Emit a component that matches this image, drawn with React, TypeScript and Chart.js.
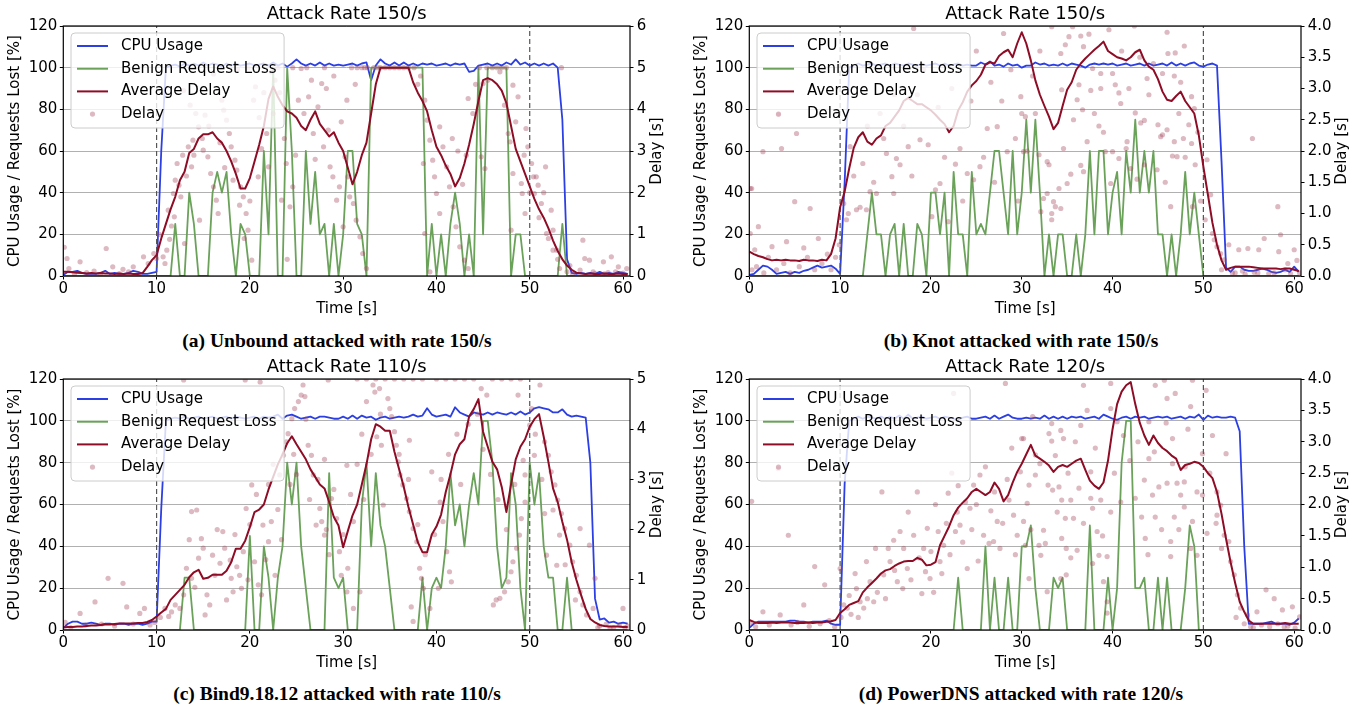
import React, { useEffect, useRef } from "react";
import { Chart, registerables } from "chart.js";

Chart.register(...registerables);

const FONT = '"DejaVu Sans", sans-serif';
const BLUE = "#2b3fe2";
const GREEN = "#6aa25a";
const RED = "#8e0c25";
const DOT = "rgba(165,70,95,0.38)";

// sampling grid (s)
const TIME = [
  0, 0.5, 1, 1.5, 2, 2.5, 3, 3.5, 4, 4.5,
  5, 5.5, 6, 6.5, 7, 7.5, 8, 8.5, 9, 9.5,
  10, 10.5, 11, 11.5, 12, 12.5, 13, 13.5, 14, 14.5,
  15, 15.5, 16, 16.5, 17, 17.5, 18, 18.5, 19, 19.5,
  20, 20.5, 21, 21.5, 22, 22.5, 23, 23.5, 24, 24.5,
  25, 25.5, 26, 26.5, 27, 27.5, 28, 28.5, 29, 29.5,
  30, 30.5, 31, 31.5, 32, 32.5, 33, 33.5, 34, 34.5,
  35, 35.5, 36, 36.5, 37, 37.5, 38, 38.5, 39, 39.5,
  40, 40.5, 41, 41.5, 42, 42.5, 43, 43.5, 44, 44.5,
  45, 45.5, 46, 46.5, 47, 47.5, 48, 48.5, 49, 49.5,
  50, 50.5, 51, 51.5, 52, 52.5, 53, 53.5, 54, 54.5,
  55, 55.5, 56, 56.5, 57, 57.5, 58, 58.5, 59, 59.5,
  60, 60.5,
];

const TIME_TICKS = [0, 10, 20, 30, 40, 50, 60];
const PERCENT_TICKS = [0, 20, 40, 60, 80, 100, 120];
const ATTACK_MARKS = [10, 50];
const X_MAX = 60.75;

// ---------- (a) Unbound, 150/s ----------
const A_CPU = [
  0.5, 2, 2, 2.5, 1.5, 1, 1, 1, 1.5, 2.5,
  1, 1.5, 1, 1, 1.5, 2.5, 2, 1, 1, 1.5,
  2, 60, 100, 101, 101.5, 100.5, 102, 101, 102, 101,
  102.5, 101, 102, 101.5, 100.5, 102, 101, 102, 101, 101.5,
  102, 101, 101.5, 102, 101, 102.5, 101, 102, 100.5, 102,
  104, 102, 101, 102, 101, 102.5, 101, 102, 101, 101.5,
  101, 101.5, 102, 101, 102, 102.5, 94, 101, 104, 102,
  101, 102.5, 101, 102.5, 101, 102, 101, 102, 101.5, 102,
  101, 101.5, 102, 101, 102, 101.5, 102, 98, 98.5, 101,
  101.5, 102, 101, 102, 101, 102.5, 101.5, 104, 101.5, 102.5,
  101, 102, 101, 102, 101, 102, 100, 75, 8, 1.5,
  1, 1.5, 1, 1.5, 1, 2, 1, 1.5, 1, 2,
  1.5, 1,
];
const A_LOSS = [
  0, 0, 0, 0, 0, 0, 0, 0, 0, 0,
  0, 0, 0, 0, 0, 0, 0, 0, 0, 0,
  0, 0, 0, 0, 25, 0, 0, 40, 25, 0,
  0, 0, 40, 50, 40, 50, 20, 0, 25, 20,
  0, 0, 0, 60, 20, 100, 0, 0, 100, 60,
  0, 0, 60, 25, 50, 20, 25, 0, 25, 0,
  20, 60, 60, 25, 20, 0, 100, 100, 100, 100,
  100, 100, 100, 100, 100, 100, 100, 100, 0, 25,
  0, 20, 0, 25, 40, 25, 0, 20, 0, 100,
  20, 100, 100, 100, 100, 100, 0, 20, 20, 0,
  0, 0, 0, 0, 0, 0, 0, 25, 0, 0,
  0, 0, 0, 0, 0, 0, 0, 0, 0, 0,
  0, 0,
];
const A_AVG = [
  0.1, 0.1, 0.09, 0.08, 0.07, 0.06, 0.07, 0.06, 0.07, 0.06,
  0.06, 0.05, 0.06, 0.05, 0.06, 0.05, 0.05, 0.07, 0.22, 0.38,
  0.5, 0.9, 1.25, 1.6, 1.9, 2.3, 2.5, 2.95, 3.05, 3.3,
  3.4, 3.4, 3.45, 3.3, 3.2, 3.0, 2.75, 2.45, 2.1, 2.1,
  2.35, 2.75, 3.15, 3.6, 4.25, 4.55, 4.3, 4.1, 3.95, 3.9,
  3.8, 3.6, 3.5, 3.75, 3.95, 3.65, 3.5, 3.35, 3.45, 3.2,
  3.0, 2.6, 2.2, 2.5, 2.9, 3.2, 3.9, 4.6, 5.0, 5.0,
  5.0, 5.0, 5.0, 5.0, 5.0, 4.65, 4.4, 4.2, 3.95, 3.5,
  3.1, 2.9, 2.65, 2.45, 2.15, 2.35, 2.7, 3.15, 3.65, 4.2,
  4.7, 4.75, 4.7, 4.6, 4.45, 4.15, 3.6, 3.05, 2.75, 2.45,
  2.15, 1.85, 1.6, 1.4, 1.15, 0.85, 0.6, 0.4, 0.25, 0.15,
  0.08, 0.06, 0.05, 0.06, 0.05, 0.05, 0.06, 0.05, 0.05, 0.06,
  0.05, 0.05,
];
const A_DOTS = [
  [0.1, 0.69], [0.4, 0.42], [0.6, 0.18], [1.2, 0.05], [1.8, 0.34], [2.5, 0.08], [3.3, 0.12], [4.0, 0.04],
  [4.6, 0.66], [5.3, 0.22], [6.0, 0.06], [6.4, 0.16], [7.0, 0.1], [7.5, 0.22], [8.1, 0.05], [8.6, 0.46],
  [9.1, 0.3], [9.7, 0.54], [10, 0.42], [10.3, 1.0], [10.7, 0.46], [11.1, 0.62], [11.25, 1.58], [11.4, 0.88],
  [11.8, 1.98], [11.9, 1.42], [12.2, 2.7], [12.4, 2.18], [12.8, 2.9], [12.9, 4.45], [13, 0.78], [13.4, 3.1],
  [13.6, 4.1], [13.75, 2.62], [13.9, 3.26], [14.2, 3.9], [14.5, 3.58], [14.6, 1.34], [15, 3.02], [15.2, 3.86],
  [15.5, 2.86], [15.8, 2.46], [16.1, 2.14], [16.1, 4.85], [16.4, 1.82], [16.6, 1.5], [17, 4.22], [17.2, 3.98],
  [17.5, 3.74], [17.8, 3.42], [18, 3.1], [18.4, 2.78], [18.6, 2.54], [18.7, 4.95], [19, 2.14], [19.3, 1.9],
  [19.6, 1.5], [19.8, 1.1], [19.8, 5.0], [20.2, 0.38], [20.4, 4.22], [20.6, 4.54], [20.9, 2.38], [21.25, 3.06],
  [21.8, 3.42], [22, 2.62], [22.3, 4.9], [22.7, 4.7], [23, 5.0], [23.4, 1.82], [23.9, 2.7], [24.3, 1.66],
  [24.6, 2.14], [24.6, 5.0], [25.2, 4.22], [25.5, 4.98], [26.1, 5.0], [26.6, 4.7], [26.8, 3.42], [27.3, 4.06],
  [27.7, 4.62], [28, 5.0], [28.4, 3.5], [28.6, 2.62], [28.9, 2.38], [29.3, 1.82], [29.6, 2.14], [30, 1.18],
  [30.2, 2.86], [30.4, 4.22], [30.5, 2.38], [30.9, 5.0], [31.1, 1.74], [31.4, 1.34], [31.5, 5.0], [31.8, 0.94],
  [32, 5.0], [32.1, 0.54], [32.5, 0.18], [32.6, 5.0], [33.3, 5.0], [34, 5.0], [35, 5.0], [36, 5.0],
  [37, 5.0], [37.6, 5.0], [38.6, 2.7], [38.75, 4.22], [38.75, 1.02], [39, 3.74], [39.3, 3.26], [39.3, 0.1],
  [39.6, 2.78], [39.8, 2.38], [40, 1.98], [40.35, 1.5], [40.35, 3.58], [40.7, 3.1], [41.1, 2.62], [41.4, 2.14],
  [41.8, 1.66], [42.1, 1.18], [42.5, 0.7], [43, 0.38], [43.4, 0.18], [43.4, 4.26], [43.9, 3.9], [44.6, 5.0],
  [44.8, 2.86], [45, 4.62], [45.2, 2.58], [45.4, 5.0], [45.5, 4.7], [46, 5.0], [46.5, 5.0], [47, 5.0],
  [47.5, 5.0], [47.7, 3.42], [47.9, 3.22], [48, 1.1], [48.2, 4.58], [48.2, 2.46], [48.75, 4.3], [49.1, 2.22],
  [49.2, 1.98], [49.5, 1.5], [49.6, 3.54], [49.8, 3.1], [50.2, 2.7], [50.4, 2.38], [50.5, 1.98], [50.7, 2.38],
  [50.9, 2.18], [51.25, 1.74], [51.7, 2.62], [51.8, 1.02], [52.3, 1.58], [52.5, 1.1], [52.5, 0.62], [52.9, 0.62],
  [53.2, 0.18], [53.4, 5.0], [54, 0.1], [54.6, 0.05], [55.4, 0.14], [55.7, 0.86], [55.9, 0.42], [56.4, 0.38],
  [57, 0.06], [57.9, 0.34], [58.4, 0.08], [58.75, 0.46], [59.5, 0.22], [60, 0.07], [60.4, 0.18],
  [10.9, 0.3], [11.6, 1.2], [12.0, 2.3], [12.6, 1.9], [13.2, 2.4], [14.0, 2.9], [14.9, 3.3], [15.6, 3.6],
  [16.8, 3.2], [17.3, 2.6], [18.2, 2.3], [18.9, 1.7], [19.4, 0.9], [20.0, 1.8], [21.0, 3.8], [21.5, 4.4],
  [22.5, 3.9], [23.2, 4.4], [23.7, 3.3], [24.0, 0.4], [24.9, 2.9], [25.8, 3.9], [26.3, 4.3], [27.0, 2.8],
  [27.9, 3.1], [28.2, 4.5], [29.0, 4.8], [29.8, 3.7], [30.7, 1.9], [31.3, 4.6], [32.3, 5.0], [33.7, 5.0],
  [34.5, 5.0], [35.5, 5.0], [36.5, 5.0], [38.0, 4.6], [38.3, 4.8], [41.7, 3.3], [42.3, 3.0], [42.8, 2.2],
  [43.2, 2.9], [44.2, 4.6], [46.8, 4.9], [47.3, 4.1], [48.5, 3.7], [49.4, 2.9], [50.0, 2.0], [51.0, 1.4],
  [51.5, 2.0], [52.0, 0.9], [53.0, 0.4], [54.3, 0.25], [56.8, 0.1], [58.0, 0.05], [59.2, 0.1],
];
const A_DELAY_TICKS = [0, 1, 2, 3, 4, 5, 6];

// ---------- (b) Knot, 150/s ----------
const B_CPU = [
  0.5, 1, 3, 5, 4.5, 3, 1, 1.5, 2, 1,
  2, 1.5, 2.5, 3, 4, 5, 4, 4.5, 5, 3.5,
  1, 45, 100, 101, 102, 101, 101.5, 102, 101, 101.5,
  102, 101, 102, 101.5, 101, 102, 101.5, 101, 102, 101,
  101.5, 102, 101, 102, 101, 101.5, 102, 101, 101.5, 101,
  101, 102.5, 101.5, 103, 101, 101.5, 100.5, 102, 101, 101.5,
  100, 101, 101, 102.5, 101.5, 102, 101, 101.5, 101, 102,
  101, 102, 101.5, 101, 100, 101.5, 102, 101.5, 102, 101.5,
  102, 101, 101.5, 102, 101, 101.5, 102, 101, 102, 101,
  101.5, 102, 101, 102.5, 101, 102, 101, 102, 102.5, 101,
  100.5, 101.5, 102, 101, 55, 4, 2, 4.5, 4.5, 3,
  2.5, 2.5, 3, 3.5, 3, 2, 1.5, 2, 3, 2,
  4.5, 2,
];
const B_LOSS = [
  0, 0, 0, 0, 0, 0, 0, 0, 0, 0,
  0, 0, 0, 0, 0, 0, 0, 0, 0, 0,
  0, 0, 0, 0, 0, 0, 20, 40, 20, 20,
  0, 20, 25, 0, 25, 0, 0, 25, 20, 0,
  40, 40, 20, 40, 0, 50, 20, 20, 0, 50,
  20, 25, 20, 40, 60, 60, 40, 20, 60, 20,
  40, 75, 40, 75, 40, 0, 20, 0, 20, 20,
  0, 0, 20, 0, 20, 60, 20, 60, 60, 20,
  40, 50, 20, 60, 40, 75, 40, 60, 40, 60,
  20, 20, 0, 20, 0, 20, 50, 20, 40, 20,
  0, 0, 0, 0, 0, 0, 0, 0, 0, 0,
  0, 0, 0, 0, 0, 0, 0, 0, 0, 0,
  0, 0,
];
const B_AVG = [
  0.39, 0.35, 0.32, 0.3, 0.27, 0.25, 0.26, 0.25, 0.26, 0.25,
  0.25, 0.24, 0.26, 0.25, 0.25, 0.24, 0.26, 0.25, 0.35, 0.6,
  1.1, 1.35, 1.72, 2.05, 2.22, 2.3, 2.15, 2.1, 2.2, 2.25,
  2.4, 2.45, 2.55, 2.65, 2.8, 2.85, 2.8, 2.75, 2.75, 2.7,
  2.65, 2.58, 2.5, 2.43, 2.3, 2.4, 2.65, 2.78, 2.95, 3.05,
  3.12, 3.22, 3.38, 3.42, 3.4, 3.52, 3.58, 3.62, 3.5, 3.72,
  3.9, 3.72, 3.45, 3.13, 2.9, 2.72, 2.55, 2.35, 2.45, 2.72,
  2.98, 3.1, 3.3, 3.4, 3.48, 3.55, 3.62, 3.68, 3.75, 3.6,
  3.55, 3.5, 3.48, 3.45, 3.5, 3.58, 3.62, 3.45, 3.35, 3.3,
  3.15, 2.95, 2.82, 2.8, 2.88, 2.95, 2.8, 2.7, 2.6, 2.25,
  1.75, 1.3, 0.85, 0.5, 0.25, 0.1, 0.13, 0.15, 0.15, 0.15,
  0.15, 0.14, 0.13, 0.12, 0.12, 0.12, 0.12, 0.11, 0.12, 0.12,
  0.1, 0.08,
];
const B_DOTS = [
  [0.1, 1.4], [0.1, 0.68], [0.26, 1.4], [0.3, 0.1], [0.6, 0.42], [0.8, 0.15], [1.0, 0.79], [1.5, 1.99],
  [1.6, 0.05], [2.1, 0.3], [2.5, 0.47], [3.0, 0.1], [3.2, 2.58], [3.55, 2.04], [3.8, 0.2], [4.1, 0.55],
  [4.5, 0.05], [5.0, 1.19], [5.2, 2.28], [5.5, 0.15], [6.0, 0.45], [6.4, 0.3], [6.7, 1.08], [7.2, 0.1],
  [7.6, 0.6], [8, 0.2], [8.6, 0.35], [9, 0.1], [9.5, 0.3], [9.9, 0.5], [10.4, 1.16], [10.7, 0.9],
  [10.9, 1.0], [11.1, 2.07], [11.8, 1.06], [12.2, 1.1], [12.9, 1.06], [13.3, 1.35], [13.7, 1.5], [14, 1.32],
  [14.4, 2.6], [15.1, 1.96], [15.7, 1.59], [15.9, 1.32], [16.2, 1.88], [16.6, 1.78], [17.5, 2.07], [18.1, 3.96],
  [18.8, 2.18], [19.7, 2.1], [20.1, 0.95], [20.5, 1.38], [21, 1.48], [21.9, 0.87], [22.7, 1.79], [23.2, 2.04],
  [24, 1.64], [24.7, 1.54], [25.4, 1.75], [26.2, 2.36], [27.3, 2.39], [28, 3.88], [28.4, 1.99], [29.9, 2.87],
  [30, 2.6], [30.2, 1.99], [30.4, 2.55], [30.6, 2.0], [31.9, 1.94], [32.1, 1.03], [32.4, 1.24], [32.8, 1.83],
  [32.8, 1.32], [33, 1.78], [33.3, 3.99], [33.3, 1.0], [33.3, 0.9], [33.5, 1.19], [33.7, 1.11], [34.1, 1.4],
  [34.3, 3.56], [34.3, 1.08], [34.4, 2.98], [34.6, 2.04], [34.8, 3.7], [35, 1.48], [35.2, 3.83], [35.4, 1.63],
  [35.6, 3.99], [35.7, 2.5], [36.1, 2.82], [36.3, 3.06], [36.5, 3.84], [36.5, 1.77], [36.7, 2.66], [36.8, 3.67],
  [36.8, 1.67], [37.2, 2.15], [37.4, 3.87], [37.6, 2.97], [37.8, 3.32], [38.5, 2.4], [38.7, 3.24], [38.7, 3.0],
  [39.2, 1.99], [39.6, 3.94], [39.8, 1.48], [40, 3.24], [40, 1.99], [40.3, 3.06], [40.7, 2.93], [40.7, 1.88],
  [40.9, 2.76], [41.5, 2.04], [41.6, 2.15], [42, 1.72], [42.4, 4.0], [42.5, 2.61], [42.7, 1.55], [43.1, 2.45],
  [43.5, 2.49], [43.5, 1.78], [43.8, 3.16], [44.9, 1.7], [45, 2.42], [45.3, 2.23], [45.5, 3.24], [45.5, 2.26],
  [46, 3.9], [46, 2.34], [46.1, 3.56], [46.4, 1.11], [46.6, 1.92], [46.8, 3.2], [46.8, 2.15], [46.9, 3.57],
  [47.1, 1.91], [47.8, 2.2], [47.9, 3.68], [48, 1.9], [48.4, 2.42], [48.7, 2.87], [48.7, 2.12], [48.8, 1.11],
  [49, 2.68], [49.1, 1.78], [50.4, 1.86], [51, 0.68], [51.2, 0.58], [51.5, 0.47], [51.9, 0.36], [52.3, 0.26],
  [52.8, 0.5], [53.2, 0.05], [53.9, 0.42], [54.3, 0.08], [54.9, 0.44], [55.4, 2.2], [55.6, 0.06], [56.1, 0.42],
  [56.7, 0.6], [57.2, 0.04], [58.2, 1.11], [58.3, 0.39], [58.5, 0.66], [59, 0.1], [59.3, 0.2], [60, 0.42],
  [60.3, 0.25], [60.6, 0.05],
  [11.5, 1.6], [12.5, 1.8], [13.0, 2.4], [14.8, 2.2], [16.0, 2.9], [17.0, 2.4], [17.9, 1.6], [18.5, 2.9],
  [19.2, 3.3], [20.8, 2.7], [21.5, 1.9], [22.3, 3.0], [23.5, 1.2], [24.4, 2.8], [25.0, 3.6], [25.8, 1.9],
  [26.6, 3.1], [27.0, 1.5], [27.8, 2.8], [28.8, 3.3], [29.3, 2.2], [29.6, 1.2], [31.2, 3.2], [31.5, 2.6],
  [32.0, 3.6], [38.0, 2.6], [39.0, 2.3], [41.0, 3.6], [41.8, 3.0], [43.0, 3.5], [44.0, 2.9], [44.5, 3.4],
  [45.8, 1.5], [47.3, 2.6], [47.5, 3.1], [49.4, 2.3], [49.7, 1.2], [50.2, 0.9], [50.8, 1.3], [52.0, 0.1],
  [53.5, 0.05], [54.6, 0.03], [56.0, 0.05], [57.8, 0.05], [59.6, 0.04],
];
const B_DELAY_TICKS = [0, 0.5, 1, 1.5, 2, 2.5, 3, 3.5, 4];

// ---------- (c) Bind9.18.12, 110/s ----------
const C_CPU = [
  1, 3, 4, 4, 3, 3, 3.5, 3, 2.5, 3,
  3, 2.5, 3, 3, 2.5, 3, 3, 2.5, 3, 4,
  4, 58, 100, 101, 101.5, 101, 102, 101, 101.5, 102,
  101, 101.5, 102, 101, 101.5, 102, 101, 102, 101.5, 101,
  101.5, 102, 101, 102, 101.5, 102, 103, 101, 102.5, 103,
  102, 101, 101.5, 102, 101, 102, 102, 101.5, 101, 101,
  102, 101, 102.5, 101, 102.5, 101.5, 102, 100.5, 101.5, 102,
  101, 101.5, 102, 101.5, 102, 103, 102, 102.5, 106, 103,
  102, 102.5, 103, 102, 106.5, 104, 103, 102, 104, 103.5,
  103, 104, 103, 104, 103.5, 103, 104, 103, 104.5, 103,
  104, 106, 106.5, 106, 105.5, 104, 104, 105.5, 103, 102,
  102.5, 102, 101.5, 80, 15, 5, 5.5, 3.5, 4, 3,
  3.5, 3,
];
const C_LOSS = [
  0, 0, 0, 0, 0, 0, 0, 0, 0, 0,
  0, 0, 0, 0, 0, 0, 0, 0, 0, 0,
  0, 0, 0, 0, 0, 0, 25, 25, 0, 0,
  0, 0, 0, 0, 0, 0, 0, 0, 0, 0,
  45, 0, 0, 40, 25, 0, 25, 40, 80, 60,
  80, 40, 20, 0, 0, 0, 0, 75, 25, 20,
  25, 0, 0, 0, 60, 80, 40, 75, 50, 40,
  20, 0, 0, 0, 0, 0, 0, 25, 0, 20,
  25, 20, 40, 75, 50, 60, 40, 60, 75, 60,
  100, 100, 80, 40, 20, 25, 75, 60, 20, 0,
  80, 60, 75, 40, 25, 25, 0, 0, 25, 0,
  0, 0, 0, 0, 0, 0, 0, 0, 0, 0,
  0, 0,
];
const C_AVG = [
  0.05, 0.06, 0.06, 0.07, 0.07, 0.08, 0.09, 0.09, 0.1, 0.11,
  0.11, 0.12, 0.13, 0.13, 0.13, 0.13, 0.14, 0.14, 0.16, 0.2,
  0.27, 0.35, 0.42, 0.6, 0.7, 0.8, 0.9, 1.05, 1.15, 1.2,
  1.02, 1.04, 1.1, 1.1, 1.1, 1.18, 1.35, 1.62, 1.62, 1.78,
  2.05, 2.35, 2.4, 2.5, 2.8, 3.05, 3.3, 3.5, 3.72, 3.86,
  3.7, 3.55, 3.4, 3.2, 3.05, 2.9, 2.82, 2.55, 2.25, 2.08,
  1.65, 1.97, 2.28, 2.5, 2.9, 3.3, 3.8, 4.1, 4.05, 3.97,
  3.97, 3.55, 3.2, 2.85, 2.45, 2.1, 1.75, 1.55, 1.55, 1.9,
  2.06, 2.3, 2.75, 3.1, 3.5, 3.7, 3.8, 4.25, 4.4, 4.6,
  3.95, 3.65, 3.35, 3.2, 2.85, 2.35, 2.9, 3.4, 3.65, 3.8,
  4.05, 4.2, 4.3, 3.85, 3.35, 2.82, 2.55, 2.15, 1.8, 1.35,
  1.0, 0.7, 0.42, 0.22, 0.15, 0.1, 0.08, 0.07, 0.07, 0.07,
  0.06, 0.06,
];
const C_DOTS = [
  [0.2, 0.15], [0.8, 0.05], [1.8, 0.33], [2.4, 0.1], [3.4, 0.56], [4.1, 0.12], [4.8, 1.03], [5.5, 0.08],
  [6.4, 0.93], [6.8, 0.46], [7.5, 0.12], [8.2, 0.33], [8.7, 0.43], [9.3, 0.1], [9.8, 0.15], [10.4, 0.25],
  [10.9, 0.43], [11.3, 0.27], [11.6, 0.36], [12, 0.5], [12.5, 0.43], [12.9, 0.7], [12.9, 4.98], [13.2, 1.23],
  [13.75, 2.36], [13.75, 1.03], [14.1, 0.85], [14.3, 2.39], [14.5, 1.43], [14.8, 1.82], [15, 1.63], [15.4, 0.7],
  [15.7, 0.5], [16, 1.49], [16.25, 1.09], [16.8, 1.33], [17.1, 1.96], [17.3, 1.63], [17.9, 1.39], [18, 1.03],
  [18.2, 0.76], [18.6, 1.26], [18.9, 1.09], [19.1, 0.83], [19.3, 1.56], [19.5, 4.98], [19.6, 2.42], [20.2, 2.89],
  [20.5, 1.36], [20.9, 0.9], [21.1, 4.94], [21.25, 0.7], [21.4, 2.09], [22, 1.76], [22.3, 2.16], [22.7, 1.09],
  [23.2, 3.09], [23.6, 3.48], [23.9, 3.75], [24.1, 3.91], [24.5, 4.21], [24.8, 4.41], [25.2, 4.55], [25.5, 4.68],
  [25.7, 4.88], [25.9, 4.65], [26.25, 3.68], [26.6, 3.48], [26.8, 3.09], [27.1, 2.09], [27.5, 2.42], [27.7, 2.16],
  [28, 1.89], [28.2, 2.0], [28.4, 4.98], [28.75, 2.62], [29.3, 2.22], [29.6, 1.56], [29.8, 1.09], [30.4, 0.76],
  [30.4, 3.28], [30.5, 1.23], [31.1, 2.16], [31.1, 0.43], [31.5, 5.0], [31.8, 0.76], [32.5, 4.55], [32.5, 5.0],
  [33.2, 4.88], [33.4, 4.74], [33.5, 5.0], [33.6, 3.85], [33.9, 4.81], [34.1, 3.68], [34.3, 2.49], [34.5, 5.0],
  [34.8, 4.61], [35, 4.41], [35.2, 4.25], [35.5, 3.95], [35.5, 5.0], [35.7, 3.68], [35.9, 3.35], [36.1, 3.09],
  [36.4, 2.89], [36.5, 5.0], [36.8, 2.62], [37.1, 2.36], [37.1, 3.78], [37.3, 0.46], [37.5, 2.02], [37.5, 0.17],
  [37.5, 5.0], [37.9, 1.76], [38.2, 1.23], [38.4, 1.03], [38.5, 5.0], [38.6, 0.83], [39.3, 0.43], [39.5, 3.15],
  [40, 5.0], [40.2, 0.83], [40.4, 2.55], [40.7, 2.16], [41, 5.0], [41.1, 1.56], [41.4, 1.16], [41.6, 0.96],
  [42, 5.0], [43, 5.0], [44, 5.0], [44.8, 4.81], [45.4, 4.68], [46, 5.0], [46.1, 0.5], [46.4, 0.6],
  [46.8, 0.63], [47, 5.0], [47.3, 0.76], [47.7, 0.96], [48, 1.16], [48, 5.0], [48.2, 1.36], [48.6, 1.63],
  [48.75, 4.68], [48.9, 1.89], [49, 5.0], [49.1, 2.22], [49.3, 3.38], [49.5, 2.55], [49.5, 3.09], [50, 4.08],
  [50.2, 4.41], [50.5, 3.48], [51.1, 4.88], [51.6, 3.75], [51.6, 2.32], [51.8, 1.49], [52, 3.48], [52.3, 3.15],
  [52.5, 2.39], [52.7, 2.89], [52.9, 1.29], [53, 2.59], [53.2, 1.89], [53.4, 2.32], [53.75, 2.02], [54.3, 1.69],
  [54.6, 1.36], [55, 1.09], [55.4, 0.76], [55.4, 2.02], [55.7, 0.5], [56.1, 0.3], [56.4, 1.69], [56.8, 0.43],
  [57, 1.03], [57.5, 0.08], [58.2, 0.12], [59, 0.05], [59.6, 0.1], [60, 0.43], [60.5, 0.08],
  [13.5, 1.8], [15.2, 0.3], [16.5, 2.0], [17.5, 0.6], [18.4, 1.9], [19.8, 1.0], [20.0, 2.1], [20.7, 2.7],
  [21.7, 1.4], [22.0, 2.9], [22.5, 3.3], [23.0, 2.4], [23.4, 1.8], [24.3, 2.9], [24.7, 3.5], [25.0, 3.1],
  [26.0, 4.2], [26.4, 2.6], [27.3, 3.0], [28.0, 3.4], [28.5, 1.5], [29.0, 2.8], [30.0, 1.9], [30.8, 2.7],
  [31.5, 3.3], [32.0, 3.9], [32.2, 2.6], [33.0, 3.5], [34.0, 4.3], [36.0, 3.5], [37.0, 3.0], [38.0, 2.1],
  [38.8, 1.5], [39.8, 1.9], [40.5, 3.0], [41.3, 3.5], [42.2, 3.9], [42.6, 2.9], [43.4, 4.1], [44.4, 4.3],
  [45.0, 3.6], [45.8, 3.1], [46.6, 2.6], [47.5, 2.0], [48.4, 2.9], [50.6, 3.9], [51.3, 3.0], [53.8, 1.3],
  [54.9, 0.6], [57.3, 0.05], [58.6, 0.04], [60.2, 0.05],
];
const C_DELAY_TICKS = [0, 1, 2, 3, 4, 5];

// ---------- (d) PowerDNS, 120/s ----------
const D_CPU = [
  1, 3, 4, 4, 4, 4, 4, 4, 4, 4.5,
  4.5, 4, 4, 3.5, 4, 4, 4, 4.5, 3, 2.5,
  2.5, 70, 100, 101, 102, 101, 102, 101.5, 101, 102,
  101, 102, 101, 102.5, 101, 103, 101, 101.5, 102, 101,
  101.5, 102, 101, 102, 101.5, 101, 100.5, 101.5, 102, 101,
  101, 101.5, 102, 101, 102.5, 101, 102, 103, 101.5, 101,
  101, 101.5, 101, 101.5, 101, 102.5, 101, 102, 101, 102,
  101, 102, 101.5, 102, 101, 101.5, 102, 101, 103, 102,
  101, 100.5, 101.5, 102, 101, 102, 101.5, 102, 101, 101.5,
  102, 101.5, 102, 101, 101.5, 102, 101, 102, 101.5, 103,
  100.5, 102.5, 101.5, 102, 101.5, 101.5, 102, 101.5, 95, 40,
  3, 3, 3, 3, 3.5, 4, 3, 3, 3, 2.5,
  3.5, 5.5,
];
const D_LOSS = [
  0, 0, 0, 0, 0, 0, 0, 0, 0, 0,
  0, 0, 0, 0, 0, 0, 0, 0, 0, 0,
  0, 0, 0, 0, 0, 0, 0, 0, 0, 0,
  0, 0, 0, 0, 0, 0, 0, 0, 0, 0,
  0, 0, 0, 0, 0, 0, 25, 0, 0, 0,
  0, 0, 40, 0, 25, 0, 0, 25, 0, 0,
  40, 40, 50, 20, 0, 0, 0, 25, 20, 25,
  0, 0, 0, 0, 0, 50, 0, 0, 0, 25,
  0, 20, 80, 100, 100, 20, 20, 25, 0, 0,
  25, 0, 25, 0, 0, 0, 20, 50, 40, 0,
  0, 0, 0, 0, 0, 0, 0, 0, 0, 0,
  0, 0, 0, 0, 0, 0, 0, 0, 0, 0,
  0, 0,
];
const D_AVG = [
  0.16, 0.13, 0.11, 0.11, 0.11, 0.12, 0.11, 0.12, 0.12, 0.12,
  0.11, 0.11, 0.11, 0.12, 0.11, 0.12, 0.12, 0.13, 0.14, 0.16,
  0.27, 0.33, 0.4, 0.43, 0.46, 0.6, 0.68, 0.75, 0.82, 0.9,
  0.95, 0.97, 1.02, 1.06, 1.09, 1.1, 1.1, 1.15, 1.12, 1.03,
  1.04, 1.08, 1.35, 1.5, 1.65, 1.83, 1.95, 2.03, 2.1, 2.2,
  2.25, 2.2, 2.15, 2.2, 2.35, 2.25, 2.05, 2.15, 2.35, 2.52,
  2.65, 2.8, 2.95, 2.78, 2.73, 2.68, 2.62, 2.52, 2.6, 2.63,
  2.6, 2.65, 2.7, 2.73, 2.55, 2.38, 2.3, 2.25, 2.35, 2.7,
  3.2, 3.6, 3.8, 3.9, 3.95, 3.6, 3.3, 3.1, 2.95, 3.1,
  2.98, 2.9, 2.85, 2.78, 2.73, 2.55, 2.63, 2.65, 2.68, 2.66,
  2.6, 2.5, 2.42, 2.2, 1.85, 1.45, 1.08, 0.75, 0.45, 0.29,
  0.15, 0.1, 0.1, 0.1, 0.1, 0.1, 0.1, 0.1, 0.11, 0.1,
  0.1, 0.1,
];
const D_DOTS = [
  [0.1, 0.1], [0.26, 2.05], [0.7, 0.05], [1.5, 0.29], [2.2, 0.08], [3.2, 2.57], [3.4, 0.24], [4.3, 1.51],
  [4.6, 0.08], [5.3, 0.12], [6, 0.4], [6.6, 0.06], [7.2, 1.01], [7.8, 0.1], [8.3, 0.72], [8.8, 0.15],
  [9.4, 0.05], [10, 0.98], [10.1, 0.2], [10.4, 0.4], [10.8, 0.35], [11.2, 0.25], [11.65, 0.9], [11.8, 0.66],
  [12.2, 0.45], [12.6, 0.35], [12.9, 1.09], [13.3, 0.77], [13.7, 0.45], [14.1, 0.6], [14.6, 2.2], [14.8, 0.88],
  [15.5, 1.09], [15.9, 1.43], [16.3, 0.77], [16.6, 1.57], [16.9, 0.66], [17.4, 0.98], [17.5, 1.88], [18.1, 1.51],
  [18.5, 2.2], [19, 0.58], [19.4, 0.93], [19.6, 1.62], [19.9, 0.82], [20.3, 0.6], [20.8, 1.57], [21, 1.09],
  [21.4, 1.35], [21.9, 2.18], [22.5, 3.77], [22.7, 1.57], [22.9, 1.88], [23.2, 1.67], [23.8, 2.04], [24, 0.98],
  [24.3, 1.94], [24.7, 2.31], [25.4, 2.47], [25.8, 1.51], [26.4, 1.38], [26.9, 1.41], [27.3, 1.73], [27.6, 1.3],
  [28.2, 3.93], [28.6, 2.07], [29.1, 1.83], [29.5, 1.51], [29.85, 2.52], [30, 3.05], [30.2, 1.73], [30.2, 3.05],
  [30.4, 1.35], [30.6, 2.02], [30.8, 0.82], [30.8, 2.31], [31.5, 2.79], [31.5, 2.47], [31.9, 1.35], [32, 2.65],
  [32.1, 1.19], [32.4, 1.59], [32.6, 1.38], [32.8, 0.61], [32.9, 2.31], [33, 3.13], [33.3, 3.29], [33.3, 3.01],
  [33.4, 2.23], [33.7, 2.78], [33.9, 1.88], [34.1, 2.28], [34.3, 3.18], [34.3, 0.82], [34.4, 2.07], [34.4, 1.46],
  [34.6, 3.05], [34.8, 1.78], [34.9, 1.3], [34.9, 0.88], [35.4, 2.07], [35.4, 1.15], [35.7, 1.78], [36.1, 1.27],
  [36.3, 2.26], [36.5, 3.26], [36.8, 3.9], [36.8, 1.7], [37.6, 2.52], [37.6, 2.1], [37.8, 1.94], [37.8, 1.06],
  [38.3, 1.57], [38.5, 1.19], [38.7, 2.07], [39, 0.77], [39.4, 1.17], [39.4, 0.45], [39.4, 0.27], [39.8, 3.93],
  [39.8, 3.53], [39.8, 1.88], [40.5, 3.32], [40.9, 2.04], [42.5, 2.1], [43.5, 2.39], [43.6, 1.46], [44, 3.32],
  [44, 2.73], [44.4, 2.15], [44.6, 2.84], [44.7, 3.9], [44.7, 1.8], [45.1, 2.28], [45.7, 3.98], [46, 3.69],
  [46, 2.34], [46.4, 1.41], [46.4, 1.17], [46.6, 3.05], [46.6, 2.65], [46.8, 1.8], [46.9, 3.77], [47.1, 2.34],
  [47.5, 2.15], [47.9, 2.36], [47.9, 1.96], [48, 2.6], [48.6, 3.56], [48.6, 1.3], [48.8, 3.98], [48.8, 1.73],
  [49.3, 2.2], [49.3, 1.19], [49.9, 2.81], [49.9, 2.15], [50.3, 3.82], [50.4, 1.54], [51, 3.1], [51.4, 1.7],
  [51.5, 2.2], [51.5, 1.83], [51.9, 1.99], [52.3, 1.51], [52.5, 2.81], [52.8, 1.41], [53, 1.09], [53.4, 0.88],
  [53.75, 0.56], [54.1, 0.35], [54.85, 0.24], [55.2, 0.05], [55.9, 0.29], [56.4, 0.08], [56.9, 0.64], [57.3, 0.05],
  [57.8, 0.5], [58.2, 0.1], [58.7, 0.32], [59.3, 0.06], [59.8, 0.37], [60.6, 0.21],
  [11.0, 0.55], [12.0, 0.2], [13.0, 0.5], [13.9, 1.3], [15.0, 0.5], [15.3, 1.3], [16.0, 0.95], [17.0, 1.3],
  [17.8, 0.8], [18.7, 1.15], [19.2, 1.3], [20.0, 1.25], [20.5, 2.0], [21.2, 0.9], [21.7, 1.7], [22.1, 1.2],
  [22.3, 2.5], [23.0, 2.3], [23.5, 1.4], [24.5, 1.6], [25.0, 2.0], [25.2, 1.1], [26.0, 2.6], [26.6, 1.9],
  [27.0, 2.2], [27.9, 1.7], [28.4, 2.4], [28.9, 2.9], [29.3, 1.2], [31.0, 1.6], [31.2, 3.4], [35.1, 2.5],
  [35.9, 3.0], [37.2, 3.5], [38.1, 2.9], [38.9, 1.5], [40.2, 2.5], [41.2, 3.1], [41.9, 2.7], [42.8, 3.0],
  [43.2, 1.8], [43.9, 1.2], [45.4, 1.6], [45.9, 3.3], [47.3, 1.6], [48.3, 3.2], [50.7, 2.5], [52.0, 1.3],
  [53.6, 0.2], [54.5, 0.1], [55.5, 0.04], [58.9, 0.05], [60.1, 0.03],
];
const D_DELAY_TICKS = [0, 0.5, 1, 1.5, 2, 2.5, 3, 3.5, 4];

const PANELS = [
  {
    key: "a", title: "Attack Rate 150/s", caption: "(a) Unbound attacked with rate 150/s",
    cpu: A_CPU, loss: A_LOSS, avg: A_AVG, dots: A_DOTS, delayTicks: A_DELAY_TICKS, decimals: 0,
    left: 0, top: 0, width: 686, height: 320, leftW: 63.3, rightW: 56, rightTitleOff: 27,
    capX: 337, capTop: 330,
  },
  {
    key: "b", title: "Attack Rate 150/s", caption: "(b) Knot attacked with rate 150/s",
    cpu: B_CPU, loss: B_LOSS, avg: B_AVG, dots: B_DOTS, delayTicks: B_DELAY_TICKS, decimals: 1,
    left: 686, top: 0, width: 675, height: 320, leftW: 63.3, rightW: 60, rightTitleOff: 41,
    capX: 1021, capTop: 330,
  },
  {
    key: "c", title: "Attack Rate 110/s", caption: "(c) Bind9.18.12 attacked with rate 110/s",
    cpu: C_CPU, loss: C_LOSS, avg: C_AVG, dots: C_DOTS, delayTicks: C_DELAY_TICKS, decimals: 0,
    left: 0, top: 353, width: 686, height: 321, leftW: 63.3, rightW: 56, rightTitleOff: 27,
    capX: 337, capTop: 683,
  },
  {
    key: "d", title: "Attack Rate 120/s", caption: "(d) PowerDNS attacked with rate 120/s",
    cpu: D_CPU, loss: D_LOSS, avg: D_AVG, dots: D_DOTS, delayTicks: D_DELAY_TICKS, decimals: 1,
    left: 686, top: 353, width: 675, height: 321, leftW: 63.3, rightW: 60, rightTitleOff: 41,
    capX: 1021, capTop: 683,
  },
];

const decorations = {
  id: "decorations",
  afterDatasetsDraw(chart: any, _args: any, opts: any) {
    const { ctx, chartArea: a } = chart;
    ctx.save();
    ctx.strokeStyle = "#000";
    ctx.lineWidth = 1.2;
    ctx.strokeRect(a.left, a.top, a.right - a.left, a.bottom - a.top);

    ctx.save();
    ctx.font = `15px ${FONT}`;
    ctx.fillStyle = "#000";
    ctx.textAlign = "center";
    ctx.textBaseline = "middle";
    ctx.translate(a.right + opts.rightTitleOff, (a.top + a.bottom) / 2);
    ctx.rotate(-Math.PI / 2);
    ctx.fillText(opts.rightTitle, 0, 0);
    ctx.restore();

    const items = chart.data.datasets.slice(0, 4);
    ctx.font = `15px ${FONT}`;
    const tw = Math.max(...items.map((d: any) => ctx.measureText(d.label).width));
    const bx = a.left + 7.7;
    const by = a.top + 7;
    const bw = 50 + tw + 7.5;
    const bh = 95;
    const r = 4;
    ctx.beginPath();
    ctx.moveTo(bx + r, by);
    ctx.lineTo(bx + bw - r, by);
    ctx.arcTo(bx + bw, by, bx + bw, by + r, r);
    ctx.lineTo(bx + bw, by + bh - r);
    ctx.arcTo(bx + bw, by + bh, bx + bw - r, by + bh, r);
    ctx.lineTo(bx + r, by + bh);
    ctx.arcTo(bx, by + bh, bx, by + bh - r, r);
    ctx.lineTo(bx, by + r);
    ctx.arcTo(bx, by, bx + r, by, r);
    ctx.closePath();
    ctx.fillStyle = "rgba(255,255,255,0.8)";
    ctx.fill();
    ctx.strokeStyle = "#cccccc";
    ctx.lineWidth = 1;
    ctx.stroke();

    items.forEach((d: any, i: number) => {
      const y = by + 13 + i * 22.7;
      if (d.type === "scatter") {
        ctx.beginPath();
        ctx.arc(bx + 21.5, y, 2.6, 0, Math.PI * 2);
        ctx.fillStyle = DOT;
        ctx.fill();
      } else {
        ctx.beginPath();
        ctx.moveTo(bx + 6, y);
        ctx.lineTo(bx + 37, y);
        ctx.strokeStyle = d.borderColor;
        ctx.lineWidth = 2;
        ctx.stroke();
      }
      ctx.fillStyle = "#000";
      ctx.textAlign = "left";
      ctx.textBaseline = "middle";
      ctx.fillText(d.label, bx + 50, y);
    });
    ctx.restore();
  },
};

function series(vals: number[]) {
  return TIME.map((t, i) => ({ x: t, y: vals[i] }));
}

const tickFont = { size: 15, family: FONT };

function makeConfig(p: any): any {
  const delayMax = p.delayTicks[p.delayTicks.length - 1];
  return {
    type: "line",
    data: {
      datasets: [
        {
          type: "line", label: "CPU Usage", data: series(p.cpu), yAxisID: "y",
          borderColor: BLUE, borderWidth: 1.8, pointRadius: 0, borderJoinStyle: "round", order: 4,
        },
        {
          type: "line", label: "Benign Request Loss", data: series(p.loss), yAxisID: "y",
          borderColor: GREEN, borderWidth: 1.8, pointRadius: 0, borderJoinStyle: "round", order: 3,
        },
        {
          type: "line", label: "Average Delay", data: series(p.avg), yAxisID: "y2",
          borderColor: RED, borderWidth: 2, pointRadius: 0, borderJoinStyle: "round", order: 0,
        },
        {
          type: "scatter", label: "Delay", data: p.dots.map((d: number[]) => ({ x: d[0], y: d[1] })), yAxisID: "y2",
          pointRadius: 2.6, pointBorderWidth: 0, backgroundColor: DOT, borderColor: DOT, order: 1,
        },
        ...ATTACK_MARKS.map((m) => ({
          type: "line", label: "", data: [{ x: m, y: 0 }, { x: m, y: 120 }], yAxisID: "y",
          borderColor: "#555555", borderWidth: 1.2, borderDash: [5, 3], pointRadius: 0, order: 2,
        })),
      ],
    },
    options: {
      responsive: false,
      maintainAspectRatio: false,
      animation: false,
      events: [],
      devicePixelRatio: 1,
      layout: { padding: 0 },
      plugins: {
        legend: { display: false },
        tooltip: { enabled: false },
        title: {
          display: true, text: p.title, color: "#000", fullSize: false,
          font: { size: 18, family: FONT, weight: "normal" }, padding: { top: 3.2, bottom: 1.2 },
        },
        decorations: { rightTitle: "Delay [s]", rightTitleOff: p.rightTitleOff },
      },
      scales: {
        x: {
          type: "linear", min: 0, max: X_MAX,
          grid: { display: true, drawOnChartArea: false, drawTicks: true, tickLength: 3.5, tickColor: "#000", tickWidth: 1 },
          border: { display: false },
          ticks: { font: tickFont, color: "#000", padding: 1, maxRotation: 0, autoSkip: false },
          afterBuildTicks: (s: any) => { s.ticks = TIME_TICKS.map((v) => ({ value: v })); },
          afterFit: (s: any) => { s.height = p.height - 26 - (p.height === 320 ? 250 : 251); },
          title: { display: true, text: "Time [s]", color: "#000", font: tickFont, padding: { top: 0, bottom: 2 } },
        },
        y: {
          type: "linear", position: "left", min: 0, max: 120,
          grid: { color: "#b0b0b0", lineWidth: 1, drawTicks: true, tickLength: 3.5, tickColor: "#000", tickWidth: 1 },
          border: { display: false },
          ticks: { font: tickFont, color: "#000", padding: 2.5 },
          afterBuildTicks: (s: any) => { s.ticks = PERCENT_TICKS.map((v) => ({ value: v })); },
          afterFit: (s: any) => { s.width = p.leftW; },
          title: {
            display: true, text: "CPU Usage / Requests Lost [%]", color: "#000", font: tickFont,
            padding: { top: 6.5, bottom: 0 },
          },
        },
        y2: {
          type: "linear", position: "right", min: 0, max: delayMax,
          grid: { display: true, drawOnChartArea: false, drawTicks: true, tickLength: 3.5, tickColor: "#000", tickWidth: 1 },
          border: { display: false },
          ticks: {
            font: tickFont, color: "#000", padding: 3.2,
            callback: (v: any) => Number(v).toFixed(p.decimals),
          },
          afterBuildTicks: (s: any) => { s.ticks = p.delayTicks.map((v: number) => ({ value: v })); },
          afterFit: (s: any) => { s.width = p.rightW; },
        },
      },
    },
    plugins: [decorations],
  };
}

function PanelChart({ p }: { p: any }) {
  const ref = useRef<HTMLCanvasElement | null>(null);
  useEffect(() => {
    if (!ref.current) return;
    const chart = new Chart(ref.current, makeConfig(p));
    return () => chart.destroy();
  }, [p]);
  return (
    <canvas
      ref={ref}
      width={p.width}
      height={p.height}
      style={{ position: "absolute", left: p.left, top: p.top, width: p.width, height: p.height, display: "block" }}
    />
  );
}

export default function App() {
  return (
    <div style={{ position: "absolute", left: 0, top: 0, width: 1361, height: 713, background: "#fff", overflow: "hidden" }}>
      {PANELS.map((p) => (
        <PanelChart key={p.key} p={p} />
      ))}
      {PANELS.map((p) => (
        <div
          key={"cap" + p.key}
          style={{
            position: "absolute", left: p.capX - 300, top: p.capTop, width: 600, textAlign: "center",
            fontFamily: '"Liberation Serif", "DejaVu Serif", serif', fontWeight: "bold", fontSize: 19.5,
            lineHeight: "22px", color: "#000", whiteSpace: "nowrap",
          }}
        >
          {p.caption}
        </div>
      ))}
    </div>
  );
}
